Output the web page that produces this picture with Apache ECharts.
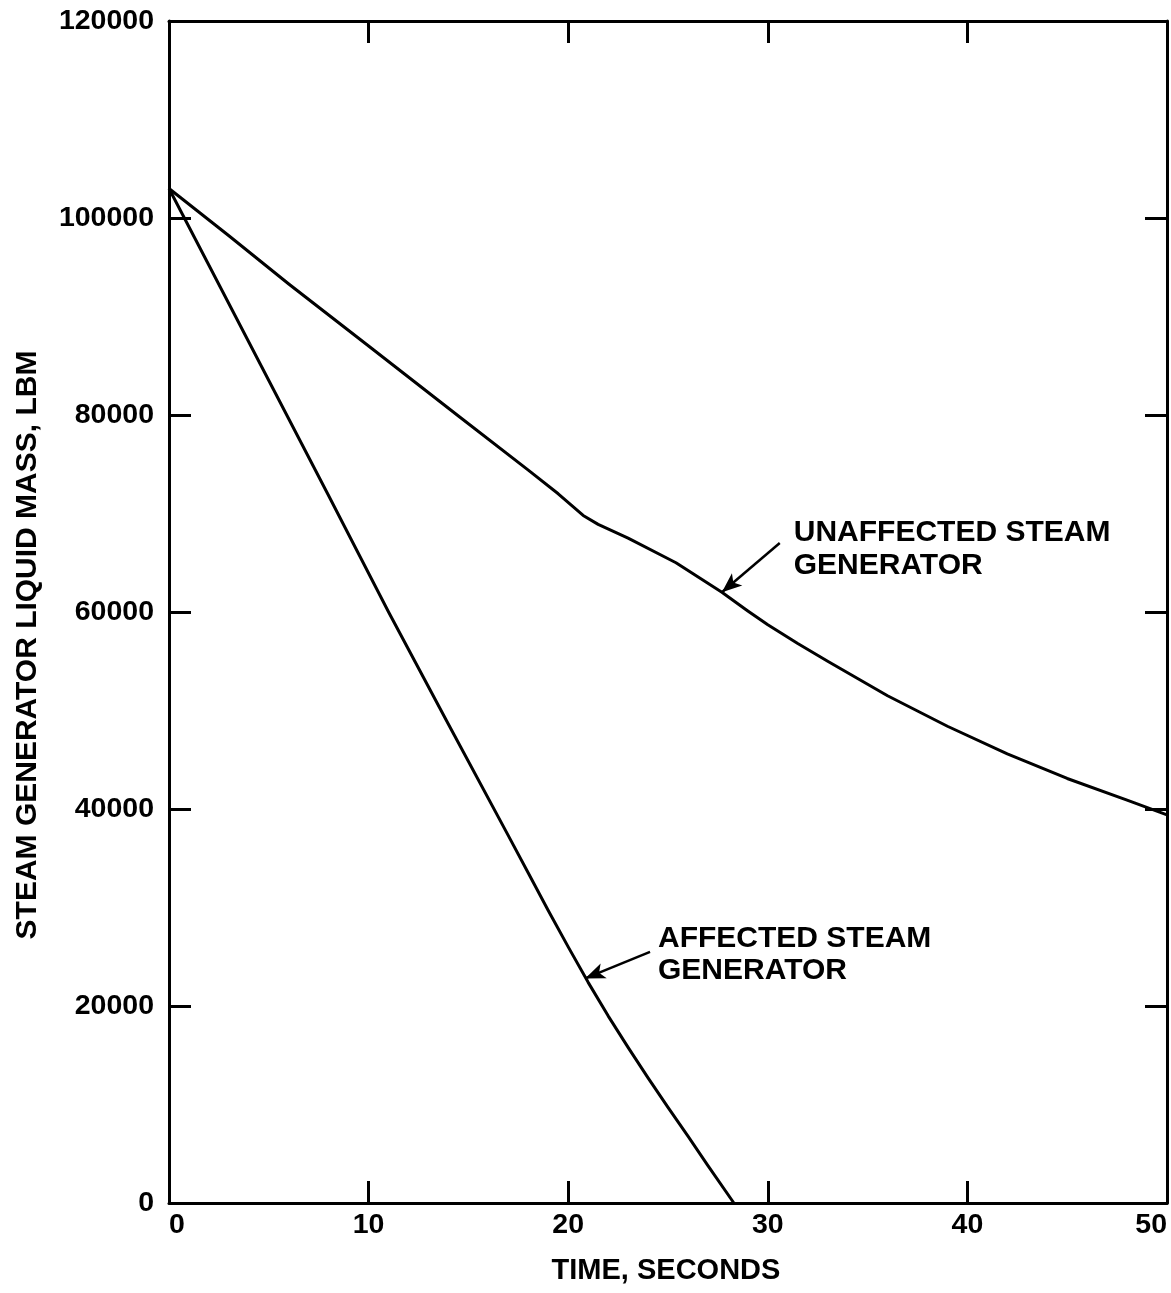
<!DOCTYPE html>
<html>
<head>
<meta charset="utf-8">
<title>Steam Generator Liquid Mass</title>
<script src="https://cdn.jsdelivr.net/npm/echarts@6/dist/echarts.min.js"></script>
<style>
  html, body { margin: 0; padding: 0; background: #ffffff; }
  #chart { width: 1171px; height: 1293px; }
</style>
</head>
<body>
<div id="chart"></div>
<script>
// Time axis (seconds) and liquid mass axis (lbm)
const xTicks = [0, 10, 20, 30, 40, 50];
const yTicks = [0, 20000, 40000, 60000, 80000, 100000, 120000];

// Affected steam generator: liquid mass vs. time
const timeAffected = [0, 2, 5, 8, 11, 14, 17, 18, 19, 20, 21, 22, 23, 24, 25, 26, 27, 28.3];
const massAffected = [103000, 95200, 83500, 71800, 60000, 48600, 37300, 33500, 29700, 26000, 22400, 19000, 15800, 12700, 9700, 6800, 3800, 0];

// Unaffected steam generator: liquid mass vs. time
const timeUnaffected = [0, 3, 6, 10, 14.5, 18, 19.5, 20.75, 21.5, 23, 25.4, 27.7, 29, 30, 31.5, 33, 36, 39, 42, 45, 48, 50];
const massUnaffected = [103000, 98200, 93300, 87000, 79900, 74400, 72000, 69800, 68900, 67500, 65000, 62000, 60100, 58700, 56800, 55000, 51500, 48400, 45600, 43100, 40900, 39400];

// Curve labels and their pointer arrows (data coordinates)
const labelUnaffected = ['UNAFFECTED STEAM', 'GENERATOR'];
const labelAffected = ['AFFECTED STEAM', 'GENERATOR'];
const arrowUnaffected = [[30.6, 67000], [27.7, 62000]];
const arrowAffected = [[24.1, 25500], [20.85, 22800]];
const anchorUnaffected = [31.3, 69700];
const anchorAffected = [24.5, 28500];

const FONT = '"Liberation Sans", Arial, Helvetica, sans-serif';
const INK = '#000000';

function pairs(xs, ys) {
  return xs.map((x, i) => [x, ys[i]]);
}

function arrowLine(coords) {
  return {
    silent: true,
    symbol: ['none', 'arrow'],
    symbolSize: [12, 20],
    lineStyle: { color: INK, width: 2.5, type: 'solid' },
    label: { show: false },
    emphasis: { disabled: true },
    data: [[{ coord: coords[0] }, { coord: coords[1] }]]
  };
}

const xMin = xTicks[0], xMax = xTicks[xTicks.length - 1];
const yMin = yTicks[0], yMax = yTicks[yTicks.length - 1];
const xStep = xTicks[1] - xTicks[0];
const yStep = yTicks[1] - yTicks[0];

const tickStyle = { show: true, inside: true, length: 22, lineStyle: { color: INK, width: 3 } };
const lineStyleAxis = { show: true, onZero: false, lineStyle: { color: INK, width: 3 } };
const labelStyle = { color: INK, fontFamily: FONT, fontWeight: 'bold', fontSize: 28.5 };
const plainNumber = (v) => String(v);

const chart = echarts.init(document.getElementById('chart'), null, { renderer: 'canvas' });

chart.setOption({
  backgroundColor: '#ffffff',
  animation: false,
  grid: { left: 169, right: 4, top: 21, bottom: 90, containLabel: false },
  xAxis: [
    {
      type: 'value', position: 'bottom', min: xMin, max: xMax, interval: xStep,
      axisLine: lineStyleAxis, axisTick: tickStyle, splitLine: { show: false },
      axisLabel: Object.assign({ margin: 8, alignMinLabel: 'left', alignMaxLabel: 'right', formatter: plainNumber }, labelStyle)
    },
    {
      type: 'value', position: 'top', min: xMin, max: xMax, interval: xStep,
      axisLine: lineStyleAxis, axisTick: tickStyle, splitLine: { show: false },
      axisLabel: { show: false }
    }
  ],
  yAxis: [
    {
      type: 'value', position: 'left', min: yMin, max: yMax, interval: yStep,
      axisLine: lineStyleAxis, axisTick: tickStyle, splitLine: { show: false },
      axisLabel: Object.assign({ margin: 15, formatter: plainNumber }, labelStyle)
    },
    {
      type: 'value', position: 'right', min: yMin, max: yMax, interval: yStep,
      axisLine: lineStyleAxis, axisTick: tickStyle, splitLine: { show: false },
      axisLabel: { show: false }
    }
  ],
  series: [
    {
      name: 'UNAFFECTED STEAM GENERATOR',
      type: 'line',
      xAxisIndex: 0, yAxisIndex: 0,
      data: pairs(timeUnaffected, massUnaffected),
      showSymbol: false,
      smooth: false,
      lineStyle: { color: INK, width: 3, join: 'round' },
      markLine: arrowLine(arrowUnaffected)
    },
    {
      name: 'AFFECTED STEAM GENERATOR',
      type: 'line',
      xAxisIndex: 0, yAxisIndex: 0,
      data: pairs(timeAffected, massAffected),
      showSymbol: false,
      smooth: false,
      lineStyle: { color: INK, width: 3, join: 'round' },
      markLine: arrowLine(arrowAffected)
    }
  ]
});

// Axis titles and curve labels, placed through the chart's own coordinate system
function toPx(pt) {
  return chart.convertToPixel({ xAxisIndex: 0, yAxisIndex: 0 }, pt);
}
const pU = toPx(anchorUnaffected);
const pA = toPx(anchorAffected);
const gridTop = toPx([0, yMax])[1];
const gridBottom = toPx([0, yMin])[1];
const gridLeft = toPx([xMin, 0])[0];
const gridRight = toPx([xMax, 0])[0];

const titleStyle = { fill: INK, fontFamily: FONT, fontWeight: 'bold', fontSize: 30 };

chart.setOption({
  graphic: [
    {
      type: 'text', x: pU[0], y: pU[1], silent: true,
      style: Object.assign({ text: labelUnaffected.join('\n'), align: 'left', verticalAlign: 'top', lineHeight: 33 }, titleStyle)
    },
    {
      type: 'text', x: pA[0], y: pA[1], silent: true,
      style: Object.assign({ text: labelAffected.join('\n'), align: 'left', verticalAlign: 'top', lineHeight: 32 }, titleStyle)
    },
    {
      type: 'text', x: (gridLeft + gridRight) / 2 - 2, y: gridBottom + 68, silent: true,
      style: Object.assign({ text: 'TIME, SECONDS', align: 'center', verticalAlign: 'middle' }, titleStyle, { fontSize: 29 })
    },
    {
      type: 'text', x: 28, y: (gridTop + gridBottom) / 2 + 33, rotation: Math.PI / 2, silent: true,
      style: Object.assign({ text: 'STEAM GENERATOR LIQUID MASS, LBM', align: 'center', verticalAlign: 'middle' }, titleStyle)
    }
  ]
});
</script>
</body>
</html>
